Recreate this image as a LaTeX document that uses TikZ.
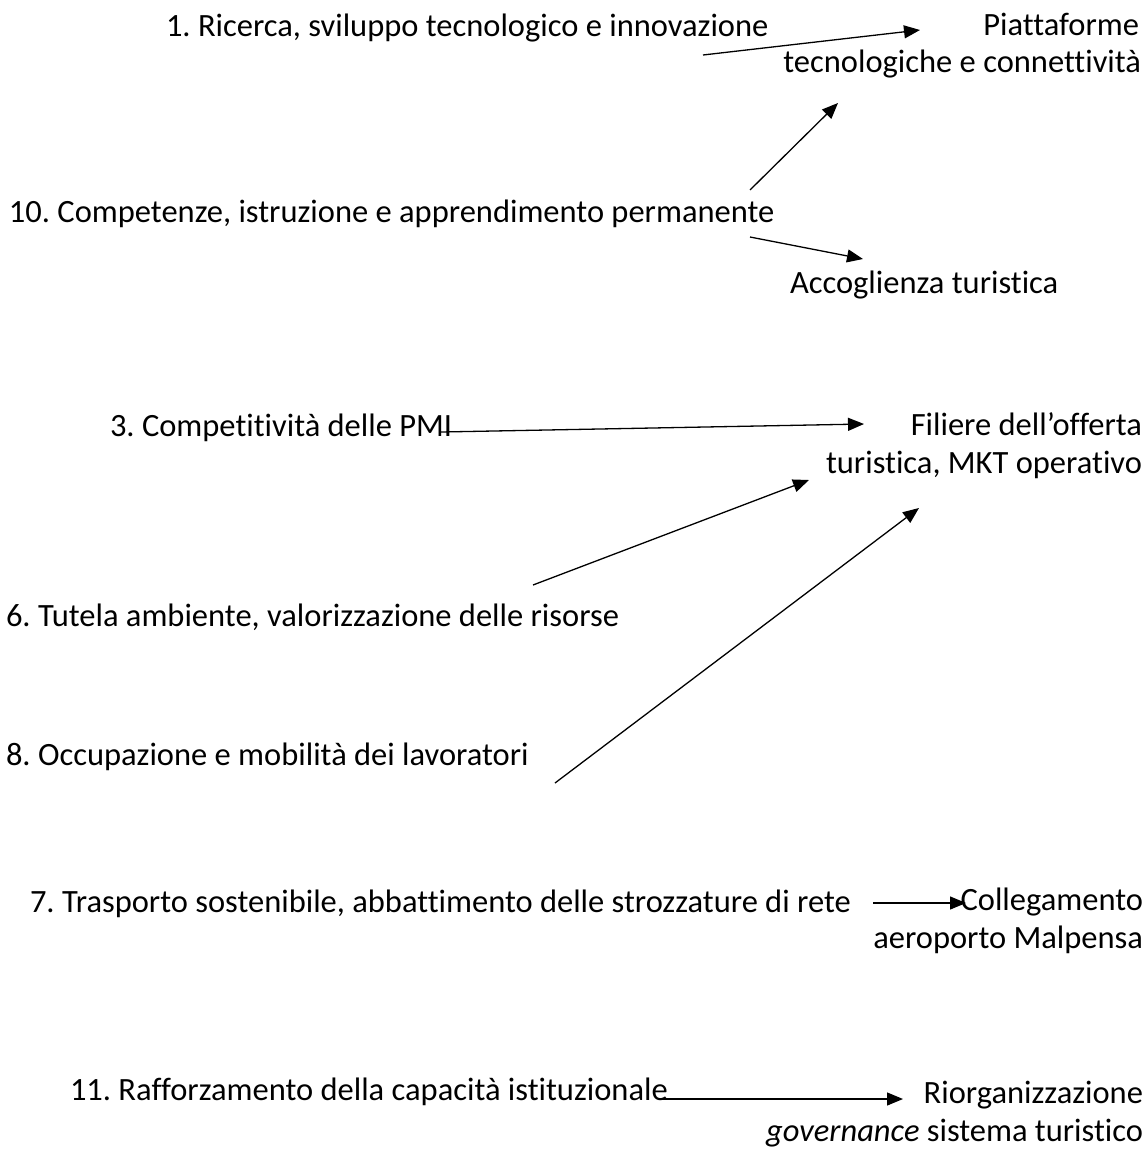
\documentclass[tikz,border=0pt]{standalone}
\usepackage{fontspec}
\setmainfont{Carlito}[Ligatures=NoCommon]
\usetikzlibrary{arrows.meta}
\frenchspacing
\begin{document}
\begin{tikzpicture}[x=1pt,y=-1pt,
  every node/.style={inner sep=0pt, outer sep=0pt, font=\fontsize{32.5}{39}\selectfont},
  src/.style={anchor=base west},
  dst/.style={anchor=base east},
  link/.style={line width=1.3pt, -{Triangle[length=16pt,width=13pt]}}]
\useasboundingbox (0,0) rectangle (1147,1151);

% left column: thematic objectives
\node[src] (o1)  at (166,36)  {1. Ricerca, sviluppo tecnologico e innovazione};
\node[src] (o10) at (9,222)   {10. Competenze, istruzione e apprendimento permanente};
\node[src] (o3)  at (110,436) {3. Competitività delle PMI};
\node[src] (o6)  at (6,626)   {6. Tutela ambiente, valorizzazione delle risorse};
\node[src] (o8)  at (6,765)   {8. Occupazione e mobilità dei lavoratori};
\node[src] (o7)  at (30,912)  {7. Trasporto sostenibile, abbattimento delle strozzature di rete};
\node[src] (o11) at (70,1100) {11. Rafforzamento della capacità istituzionale};

% right column: actions
\node[dst] (a1a) at (1139,35)  {Piattaforme};
\node[dst] (a1b) at (1141,72)  {tecnologiche e connettività};
\node[src] (a2)  at (790,293)  {Accoglienza turistica};
\node[dst] (a3a) at (1142,435) {Filiere dell’offerta};
\node[dst] (a3b) at (1142,473) {turistica, MKT operativo};
\node[dst] (a4a) at (1143,910) {Collegamento};
\node[dst] (a4b) at (1143,948) {aeroporto Malpensa};
\node[dst] (a5a) at (1143,1103){Riorganizzazione};
\node[dst] (a5b) at (1143,1141){\textit{governance} sistema turistico};

% connector ends
\coordinate (t1)   at (703,55);   \coordinate (h1)   at (920,30);
\coordinate (t10a) at (750,190);  \coordinate (h10a) at (838,103);
\coordinate (t10b) at (750,237);  \coordinate (h10b) at (863,259);
\coordinate (t3)   at (441,432);  \coordinate (h3)   at (864,424);
\coordinate (t6)   at (533,585);  \coordinate (h6)   at (809,480);
\coordinate (t8)   at (555,783);  \coordinate (h8)   at (919,508);
\coordinate (t7)   at (873,903);  \coordinate (h7)   at (966,903);
\coordinate (t11)  at (661,1099); \coordinate (h11)  at (903,1099);

\draw[link] (t1) -- (h1);
\draw[link] (t10a) -- (h10a);
\draw[link] (t10b) -- (h10b);
\draw[link] (t3) -- (h3);
\draw[link] (t6) -- (h6);
\draw[link] (t8) -- (h8);
\draw[link] (t7) -- (h7);
\draw[link] (t11) -- (h11);
\end{tikzpicture}
\end{document}
